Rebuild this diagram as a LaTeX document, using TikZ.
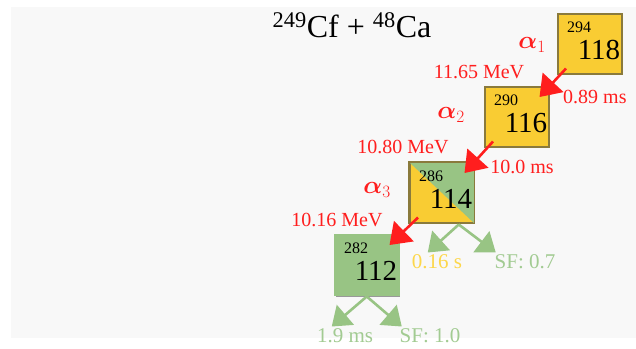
\documentclass[tikz,border=0pt]{standalone}
\usepackage{amsmath}
\usepackage{fontspec}
\setmainfont{Liberation Serif}
\usetikzlibrary{positioning,calc,arrows.meta}
\definecolor{nucyellow}{HTML}{F9CC33}
\definecolor{nucgreen}{HTML}{98C484}
\definecolor{nucframe}{HTML}{8A7A3C}
\definecolor{alphared}{HTML}{FF1E1E}
\definecolor{sfgreen}{HTML}{A2CB92}
\definecolor{tyellow}{HTML}{FDD74A}
\definecolor{bggray}{HTML}{F8F8F8}
\newcommand{\fs}[1]{\fontsize{#1}{#1}\selectfont}

\begin{document}
\begin{tikzpicture}[x=1pt,y=-1pt,
  nucbox/.style={draw=nucframe,line width=1.5pt,minimum width=64pt,minimum height=60pt,anchor=north west,inner sep=0pt},
  shadowbox/.style={fill=gray!80,minimum width=64pt,minimum height=60pt,anchor=north west,inner sep=0pt},
  massno/.style={font=\fs{16},inner sep=0pt},
  zno/.style={font=\fs{29},inner sep=0pt},
  redlbl/.style={text=alphared,font=\fs{20},inner sep=0pt},
  alphadecay/.style={draw=alphared,line width=2.6pt,-{Triangle[length=20pt,width=28pt]}},
  sfarrow/.style={draw=nucgreen,line width=2.6pt,-{Triangle[length=18pt,width=26pt]}},
  sflbl/.style={text=sfgreen,font=\fs{21},inner sep=0pt}]
\useasboundingbox (0,0) rectangle (636,348);
\fill[white] (0,0) rectangle (636,348);
\fill[bggray] (11,7) rectangle (636,338);

% title
\node[font=\fs{32},inner sep=0pt,anchor=base] (title) at (352,37) {\textsuperscript{249}Cf + \textsuperscript{48}Ca};

% nuclei
\node[shadowbox] at (559,15) {};
\node[nucbox,fill=nucyellow] (b118) at (557,13) {};
\node[shadowbox] at (486,88) {};
\node[nucbox,fill=nucyellow] (b116) at (484,86) {};
\node[shadowbox] at (411,164) {};
\node[nucbox,fill=nucyellow] (b114) at (409,162) {};
\fill[nucgreen] (b114.north west) -- (b114.north east) -- (b114.south east) -- cycle;
\draw[nucframe,line width=1.5pt] (b114.north west) rectangle (b114.south east);
\node[shadowbox] at (336,237) {};
\node[nucbox,fill=nucgreen,draw=nucgreen] (b112) at (334,234) {};

\foreach \b/\m in {118/294,116/290,114/286,112/282}{
  \node[massno] at ($(b\b.north west)+(22,14)$) {\m};
  \node[zno] at ($(b\b.north west)+(42,37)$) {\b};
}

% alpha chain
\draw[alphadecay] ($(b118.south west)+(9,-6)$) -- ($(b116.north east)+(-10,11)$);
\draw[alphadecay] ($(b116.south west)+(9,-6)$) -- ($(b114.north east)+(-10,11)$);
\draw[alphadecay] ($(b114.south west)+(9,-6)$) -- ($(b112.north east)+(-10,11)$);

\node[redlbl,font=\fs{24}] (a1) at (532,45) {$\boldsymbol{\alpha}_1$};
\node[redlbl] (e1) at (479,72) {11.65 MeV};
\node[redlbl,anchor=west] (t1) at (563,97) {0.89 ms};
\node[redlbl,font=\fs{24}] (a2) at (451,115) {$\boldsymbol{\alpha}_2$};
\node[redlbl] (e2) at (403,147) {10.80 MeV};
\node[redlbl] (t2) at (522,167) {10.0 ms};
\node[redlbl,font=\fs{24}] (a3) at (377,190) {$\boldsymbol{\alpha}_3$};
\node[redlbl] (e3) at (337,220) {10.16 MeV};

% fission branches
\coordinate (f114) at ($(b114.south)+(17,1)$);
\draw[sfarrow] (f114) -- ++(-31,28);
\draw[sfarrow] (f114) -- ++(37,28);
\coordinate (f112) at ($(b112.south)+(0,1)$);
\draw[sfarrow] (f112) -- ++(-35,30);
\draw[sfarrow] (f112) -- ++(35,30);

\node[sflbl,text=tyellow] (t3) at (437,262) {0.16 s};
\node[sflbl] (s3) at (525,262) {SF: 0.7};
\node[sflbl] (t4) at (345,336) {1.9 ms};
\node[sflbl] (s4) at (430,336) {SF: 1.0};
\end{tikzpicture}
\end{document}
